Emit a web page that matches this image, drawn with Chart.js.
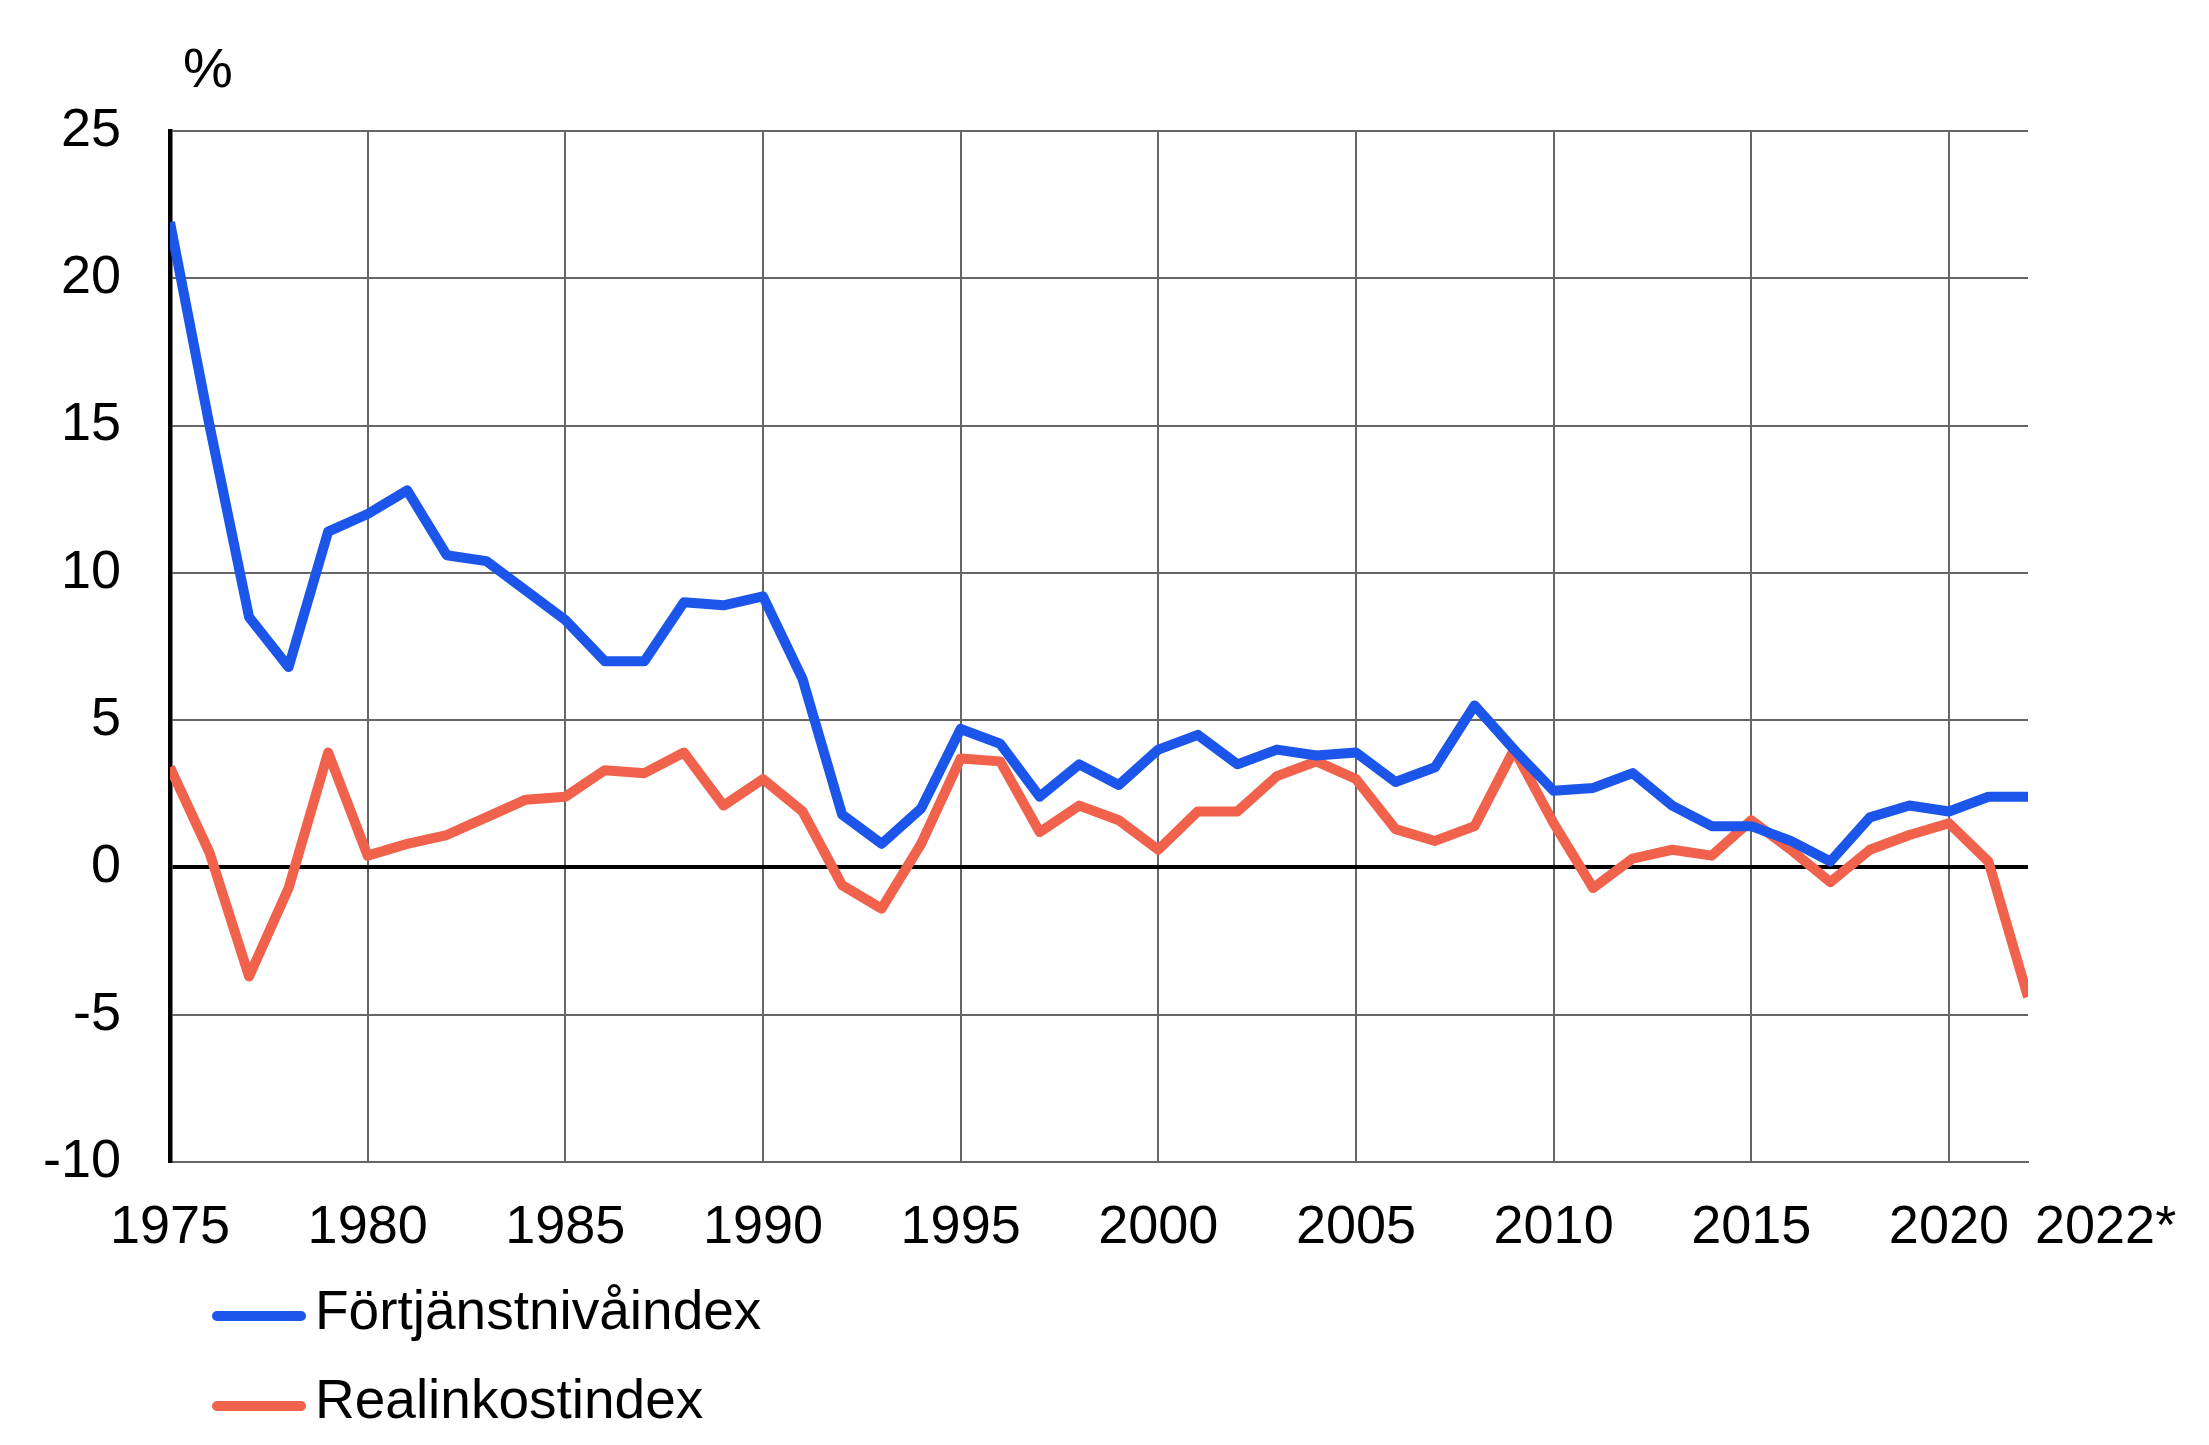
<!DOCTYPE html>
<html>
<head>
<meta charset="utf-8">
<script src="https://cdn.jsdelivr.net/npm/chart.js@4.4.1/dist/chart.umd.min.js"></script>
<style>
  html, body { margin: 0; padding: 0; background: #ffffff; }
  #wrap { position: relative; width: 2209px; height: 1445px; overflow: hidden; }
  canvas { position: absolute; left: 0; top: 0; }
  .leg { position: absolute; left: 212px; height: 60px; line-height: 60px;
         font-family: "Liberation Sans", Arial, sans-serif; font-size: 55px; color: #000; white-space: nowrap; }
  .leg .sw { position: absolute; left: 0; width: 94px; height: 10px; border-radius: 5px; }
  .leg .tx { position: absolute; left: 103px; top: 0; }
</style>
</head>
<body>
<div id="wrap">
  <canvas id="c" width="2209" height="1445"></canvas>
  <div id="legend"></div>
</div>
<script>
const years = [];
for (let y = 1975; y <= 2022; y++) years.push(y);

const fortjanstnivaindex = [
  21.9, 15.0, 8.5, 6.8, 11.4, 12.0, 12.8, 10.6, 10.4, 9.4,
  8.4, 7.0, 7.0, 9.0, 8.9, 9.2, 6.4, 1.8, 0.8, 2.0,
  4.7, 4.2, 2.4, 3.5, 2.8, 4.0, 4.5, 3.5, 4.0, 3.8,
  3.9, 2.9, 3.4, 5.5, 4.0, 2.6, 2.7, 3.2, 2.1, 1.4,
  1.4, 0.9, 0.2, 1.7, 2.1, 1.9, 2.4, 2.4
];

const realinkostindex = [
  3.4, 0.5, -3.7, -0.7, 3.9, 0.4, 0.8, 1.1, 1.7, 2.3,
  2.4, 3.3, 3.2, 3.9, 2.1, 3.0, 1.9, -0.6, -1.4, 0.8,
  3.7, 3.6, 1.2, 2.1, 1.6, 0.6, 1.9, 1.9, 3.1, 3.6,
  3.0, 1.3, 0.9, 1.4, 4.0, 1.5, -0.7, 0.3, 0.6, 0.4,
  1.6, 0.6, -0.5, 0.6, 1.1, 1.5, 0.2, -4.4
];

const seriesNames = ["Förtjänstnivåindex", "Realinkostindex"];
const xTickValues = [1975, 1980, 1985, 1990, 1995, 2000, 2005, 2010, 2015, 2020, 2022];
const xTickLabels = ["1975", "1980", "1985", "1990", "1995", "2000", "2005", "2010", "2015", "2020", "2022*"];
const yTickValues = [-10, -5, 0, 5, 10, 15, 20, 25];
const yUnit = "%";

const BLUE = "#1b55e9";
const RED = "#f0624c";
const FONT = "Liberation Sans, Arial, sans-serif";

function pts(vals) { return years.map((y, i) => ({ x: y, y: vals[i] })); }

const extraText = {
  id: "extraText",
  afterDraw(chart) {
    const ctx = chart.ctx;
    const xs = chart.scales.x;
    const ys = chart.scales.y;
    ctx.save();
    ctx.fillStyle = "#000";
    ctx.font = "56px " + FONT;
    // unit label above the y axis
    ctx.textAlign = "center";
    ctx.textBaseline = "alphabetic";
    ctx.fillText(yUnit, xs.left + 38, ys.top - 44);
    // last (offset) x tick label
    ctx.font = "54px " + FONT;
    const lastIdx = xTickValues.length - 1;
    ctx.textAlign = "left";
    ctx.textBaseline = "middle";
    ctx.fillText(xTickLabels[lastIdx], xs.getPixelForValue(xTickValues[lastIdx]) + 7, ys.bottom + 66);
    ctx.restore();
  }
};

const chart = new Chart(document.getElementById("c"), {
  type: "line",
  data: {
    datasets: [
      { label: seriesNames[0], data: pts(fortjanstnivaindex), borderColor: BLUE, backgroundColor: BLUE,
        borderWidth: 10, pointRadius: 0, tension: 0, borderJoinStyle: "round", borderCapStyle: "butt" },
      { label: seriesNames[1], data: pts(realinkostindex), borderColor: RED, backgroundColor: RED,
        borderWidth: 10, pointRadius: 0, tension: 0, borderJoinStyle: "round", borderCapStyle: "butt" }
    ]
  },
  options: {
    responsive: false,
    animation: false,
    devicePixelRatio: 1,
    layout: { padding: { top: 131, right: 181, left: 0, bottom: 0 } },
    plugins: { legend: { display: false }, tooltip: { enabled: false } },
    scales: {
      x: {
        type: "linear",
        min: 1975, max: 2022,
        afterBuildTicks(scale) { scale.ticks = xTickValues.map(v => ({ value: v })); },
        afterFit(scale) { scale.height = 1445 - 1162; },
        ticks: {
          autoSkip: false, maxRotation: 0, padding: 34,
          color: "#000", font: { family: FONT, size: 54 },
          callback(v) {
            const i = xTickValues.indexOf(v);
            return (i < 0 || i === xTickValues.length - 1) ? "" : xTickLabels[i];
          }
        },
        grid: {
          drawTicks: false,
          color(ctx) { return (ctx.tick && ctx.tick.value === 2022) ? "rgba(0,0,0,0)" : "#666666"; },
          lineWidth: 2
        },
        border: { display: true, color: "#666666", width: 2 }
      },
      y: {
        min: -10, max: 25,
        afterBuildTicks(scale) { scale.ticks = yTickValues.map(v => ({ value: v })); },
        afterFit(scale) { scale.width = 170; },
        ticks: {
          padding: 49, color: "#000", font: { family: FONT, size: 54 },
          callback(v) { return String(v); }
        },
        grid: {
          drawTicks: false,
          color(ctx) { return (ctx.tick && ctx.tick.value === 0) ? "#000" : "#666666"; },
          lineWidth(ctx) { return (ctx.tick && ctx.tick.value === 0) ? 4 : 2; }
        },
        border: { display: true, color: "#000", width: 4.5 }
      }
    }
  },
  plugins: [extraText]
});

// HTML legend built from the datasets
const legendEl = document.getElementById("legend");
const legTops = [1280, 1369];
const swTops = [31, 32];
chart.data.datasets.forEach((ds, i) => {
  const item = document.createElement("div");
  item.className = "leg";
  item.style.top = legTops[i] + "px";
  const sw = document.createElement("div");
  sw.className = "sw";
  sw.style.background = ds.borderColor;
  sw.style.top = swTops[i] + "px";
  const tx = document.createElement("span");
  tx.className = "tx";
  tx.textContent = ds.label;
  item.appendChild(sw);
  item.appendChild(tx);
  legendEl.appendChild(item);
});
</script>
</body>
</html>
